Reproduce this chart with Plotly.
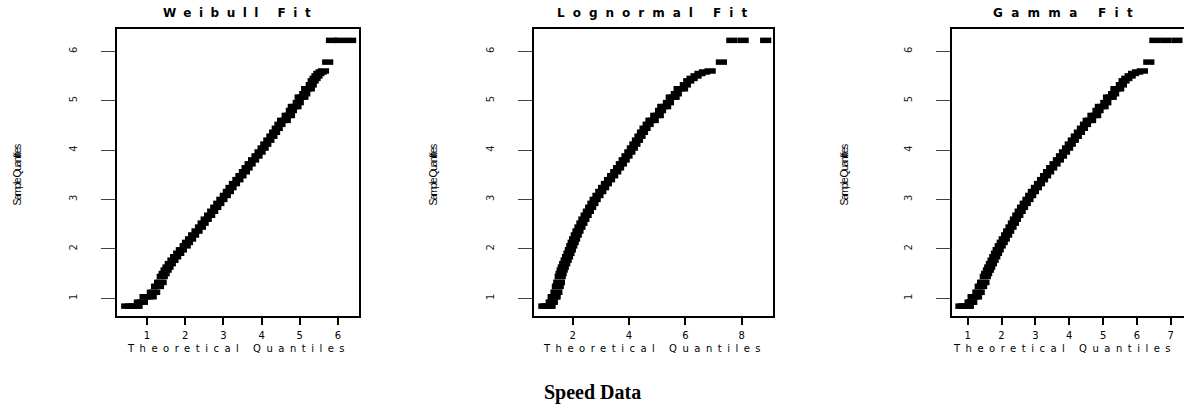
import plotly.graph_objects as go

# ---- data (sorted sample quantiles and matching theoretical quantiles)
sample_q = [0.84, 0.84, 0.84, 0.84, 0.92, 0.92, 1.03, 1.03, 1.03, 1.12, 1.12, 1.24, 1.24, 1.32, 1.32,
            1.44, 1.50, 1.57, 1.63, 1.70, 1.77, 1.84, 1.91, 1.98, 2.06, 2.13, 2.20, 2.28, 2.36, 2.44,
            2.52, 2.60, 2.68, 2.76, 2.84, 2.92, 3.00, 3.08, 3.16, 3.24, 3.32, 3.40, 3.48, 3.56, 3.64,
            3.72, 3.80, 3.88, 3.96, 4.04, 4.12, 4.20, 4.28, 4.36, 4.44, 4.52,
            4.60, 4.60, 4.70, 4.70, 4.80, 4.88, 4.88, 4.96, 5.07, 5.07, 5.14, 5.24, 5.24, 5.32, 5.40,
            5.45, 5.50, 5.55, 5.58, 5.60, 5.78, 6.22, 6.22, 6.22]

weibull_q = [0.47, 0.57, 0.66, 0.74, 0.80, 0.88, 0.95, 1.03, 1.11, 1.14, 1.20, 1.25, 1.30, 1.33, 1.37,
             1.40, 1.45, 1.50, 1.55, 1.61, 1.68, 1.75, 1.83, 1.90, 2.00, 2.06, 2.14, 2.22, 2.31, 2.40,
             2.47, 2.55, 2.64, 2.72, 2.80, 2.88, 2.96, 3.05, 3.13, 3.20, 3.29, 3.38, 3.46, 3.55, 3.62,
             3.70, 3.79, 3.88, 3.96, 4.04, 4.11, 4.19, 4.27, 4.34, 4.41, 4.48,
             4.55, 4.62, 4.67, 4.73, 4.78, 4.83, 4.90, 4.96, 5.01, 5.08, 5.13, 5.18, 5.25, 5.30, 5.35,
             5.40, 5.45, 5.50, 5.56, 5.62, 5.73, 5.83, 6.05, 6.33]

lognormal_q = [0.98, 1.06, 1.13, 1.20, 1.24, 1.28, 1.31, 1.35, 1.38, 1.41, 1.44, 1.46, 1.49, 1.51, 1.53,
               1.56, 1.59, 1.63, 1.67, 1.72, 1.77, 1.82, 1.87, 1.92, 1.97, 2.02, 2.07, 2.13, 2.19, 2.26,
               2.33, 2.40, 2.48, 2.56, 2.64, 2.72, 2.80, 2.90, 3.00, 3.10, 3.20, 3.31, 3.42, 3.53, 3.63,
               3.73, 3.83, 3.93, 4.03, 4.12, 4.21, 4.30, 4.39, 4.48, 4.57, 4.68,
               4.78, 4.86, 4.95, 5.04, 5.12, 5.20, 5.30, 5.40, 5.50, 5.60, 5.68, 5.78, 5.90, 6.00, 6.12,
               6.24, 6.38, 6.52, 6.68, 6.88, 7.28, 7.65, 8.05, 8.85]

gamma_q = [0.80, 0.88, 0.95, 1.02, 1.07, 1.12, 1.16, 1.21, 1.26, 1.30, 1.34, 1.37, 1.41, 1.44, 1.48,
           1.52, 1.56, 1.61, 1.65, 1.70, 1.75, 1.80, 1.85, 1.90, 1.96, 2.02, 2.08, 2.15, 2.21, 2.28,
           2.35, 2.41, 2.48, 2.55, 2.62, 2.70, 2.78, 2.86, 2.94, 3.03, 3.12, 3.21, 3.30, 3.39, 3.48,
           3.58, 3.68, 3.77, 3.86, 3.95, 4.03, 4.12, 4.21, 4.30, 4.39, 4.48,
           4.56, 4.63, 4.70, 4.78, 4.85, 4.92, 5.00, 5.08, 5.16, 5.24, 5.31, 5.38, 5.46, 5.54, 5.62,
           5.70, 5.80, 5.90, 6.02, 6.16, 6.35, 6.53, 6.85, 7.18]

panel_titles = ["Weibull Fit", "Lognormal Fit", "Gamma Fit"]
x_ticks = [[1, 2, 3, 4, 5, 6], [2, 4, 6, 8], [1, 2, 3, 4, 5, 6, 7]]
y_ticks = [1, 2, 3, 4, 5, 6]
x_ranges = [[0.215, 6.55], [0.63, 9.11], [0.536, 7.39]]
y_range = [0.64, 6.45]

W, H = 1184, 417
box_x = [(117, 359), (534, 773), (952, 1184)]
box_top, box_bottom = 29, 316

fig = go.Figure()
theo = [weibull_q, lognormal_q, gamma_q]
for i in range(3):
    sfx = "" if i == 0 else str(i + 1)
    fig.add_trace(go.Scatter(
        x=theo[i], y=sample_q, mode="markers",
        xaxis="x" + sfx, yaxis="y" + sfx,
        marker=dict(symbol="line-ew", size=8, color="black",
                    line=dict(width=5.5, color="black")),
        showlegend=False, hoverinfo="skip"))

layout = dict(width=W, height=H, margin=dict(l=0, r=0, t=0, b=0),
              paper_bgcolor="white", plot_bgcolor="white", showlegend=False)
ydom = [1 - box_bottom / H, 1 - box_top / H]
for i in range(3):
    sfx = "" if i == 0 else str(i + 1)
    x0, x1 = box_x[i]
    layout["xaxis" + sfx] = dict(
        domain=[x0 / W, min(x1 / W, 1.0)], range=x_ranges[i], anchor="y" + sfx,
        tickvals=x_ticks[i], ticktext=[str(t) for t in x_ticks[i]],
        ticks="outside", ticklen=7, tickwidth=1.5, tickcolor="black",
        showline=True, linewidth=1.6, linecolor="black", mirror=True,
        showgrid=False, zeroline=False, ticklabelstandoff=2,
        tickfont=dict(family="DejaVu Sans", size=10, color="black"))
    layout["yaxis" + sfx] = dict(
        domain=ydom, range=y_range, anchor="x" + sfx,
        tickvals=y_ticks, ticktext=[str(t) for t in y_ticks],
        ticks="outside", ticklen=14, tickwidth=1, tickcolor="#444",
        tickangle=-90, ticklabelstandoff=20,
        showline=True, linewidth=1.8, linecolor="black", mirror=(i < 2),
        showgrid=False, zeroline=False,
        tickfont=dict(family="DejaVu Sans", size=10, color="#222"))

annotations = []
title_cx = [240, 656, 1067]
title_sp = [7.5, 8, 8.3]
for i in range(3):
    annotations.append(dict(
        text='<span style="letter-spacing:%spx"><b>%s</b></span>' % (title_sp[i], panel_titles[i]),
        x=title_cx[i] / W, y=1 - 13 / H, xref="paper", yref="paper",
        xanchor="center", yanchor="middle", showarrow=False,
        font=dict(family="DejaVu Sans", size=12, color="black")))
xlab_cx = [238, 654, 1064]
for i in range(3):
    annotations.append(dict(
        text='<span style="letter-spacing:5.5px">Theoretical Quantiles</span>',
        x=xlab_cx[i] / W, y=1 - 348 / H, xref="paper", yref="paper",
        xanchor="center", yanchor="middle", showarrow=False,
        font=dict(family="DejaVu Sans", size=10, color="black")))
ylab_cx = [16, 432, 843]
for i in range(3):
    annotations.append(dict(
        text='<span style="letter-spacing:-1.5px">Sample Quantities</span>',
        x=ylab_cx[i] / W, y=1 - 174.5 / H, xref="paper", yref="paper",
        xanchor="center", yanchor="middle", textangle=-90, showarrow=False,
        font=dict(family="Liberation Sans", size=10.5, color="black")))
annotations.append(dict(
    text="<b>Speed Data</b>", x=592 / W, y=1 - 392 / H, xref="paper", yref="paper",
    xanchor="center", yanchor="middle", showarrow=False,
    font=dict(family="Liberation Serif", size=20, color="black")))
layout["annotations"] = annotations

fig.update_layout(**layout)
fig.write_html("out.html", config={"displayModeBar": False},
               post_script="document.body.style.margin='0';")
